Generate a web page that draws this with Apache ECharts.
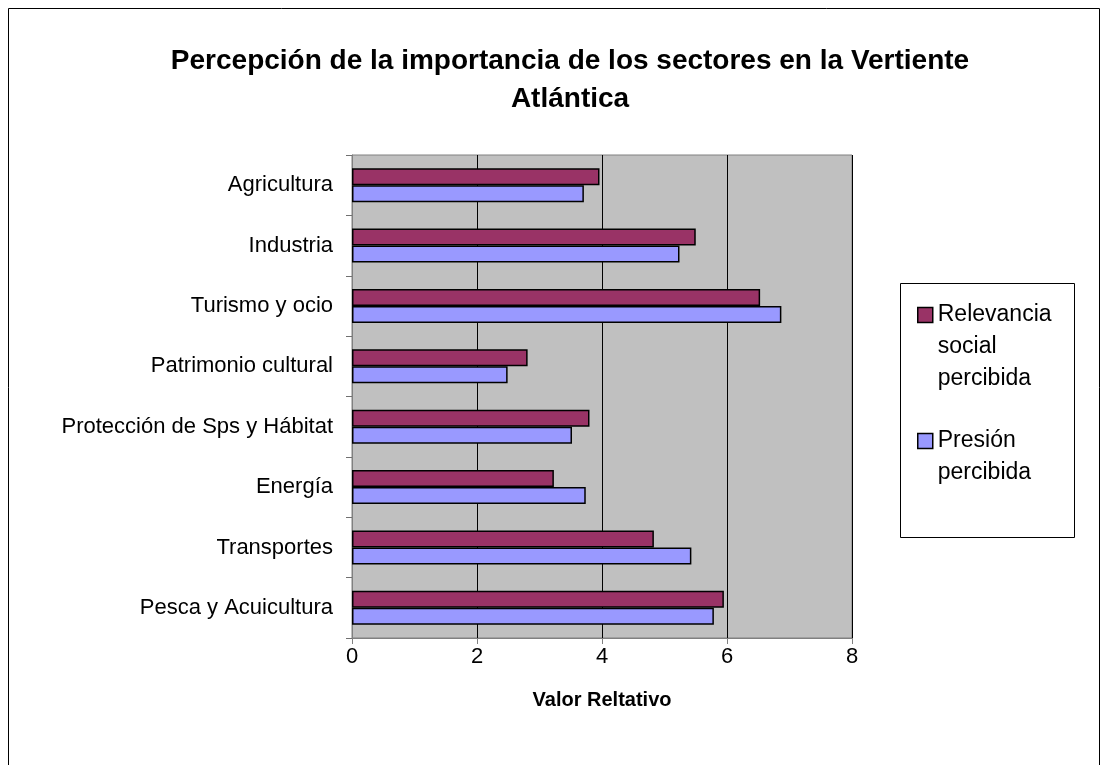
<!DOCTYPE html>
<html>
<head>
<meta charset="utf-8">
<script src="https://cdn.jsdelivr.net/npm/echarts@6/dist/echarts.min.js"></script>
<style>
  html, body { margin: 0; padding: 0; background: #fff; }
  #chart { width: 1109px; height: 765px; }
</style>
</head>
<body>
<div id="chart"></div>
<script>
// categories top to bottom, as in the picture
const sectores = ['Agricultura', 'Industria', 'Turismo y ocio', 'Patrimonio cultural',
  'Protección de Sps y Hábitat', 'Energía', 'Transportes', 'Pesca y Acuicultura']
const relevanciaSocial = [3.96, 5.50, 6.53, 2.81, 3.80, 3.23, 4.83, 5.95]
const presion = [3.71, 5.24, 6.87, 2.49, 3.52, 3.74, 5.43, 5.79]
const xTicks = [0, 2, 4, 6, 8]

const font = 'Arial, "Liberation Sans", sans-serif'

const chart = echarts.init(document.getElementById('chart'))

// legend text: blank lines first so the icon sits beside the first line
const legendText = {
  fontFamily: font, fontSize: 23, color: '#000', lineHeight: 32
}

const option = {
  backgroundColor: '#fff',
  animation: false,
  textStyle: { fontFamily: font, color: '#000' },
  title: {
    text: 'Percepción de la importancia de los sectores en la Vertiente\nAtlántica',
    left: 565,
    textAlign: 'center',
    top: 37,
    textStyle: { fontFamily: font, fontSize: 28, fontWeight: 'bold', color: '#000', lineHeight: 38 }
  },
  graphic: [{
    type: 'rect',
    shape: { x: 8.5, y: 8.5, width: 1091, height: 800 },
    style: { fill: 'none', stroke: '#000', lineWidth: 1 },
    silent: true
  }, {
    type: 'rect',
    shape: { x: 900.5, y: 283.5, width: 174, height: 254 },
    style: { fill: '#fff', stroke: '#000', lineWidth: 1 },
    silent: true,
    z: -1
  }],
  legend: [{
    data: ['Relevancia social percibida'],
    left: 912,
    top: 230,
    icon: 'rect',
    itemWidth: 15,
    itemHeight: 15,
    itemStyle: { borderColor: '#000', borderWidth: 1.5 },
    formatter: () => '\n\nRelevancia\nsocial\npercibida',
    textStyle: legendText
  }, {
    data: ['Presión percibida'],
    left: 912,
    top: 388,
    icon: 'rect',
    itemWidth: 15,
    itemHeight: 15,
    itemStyle: { borderColor: '#000', borderWidth: 1.5 },
    formatter: () => '\nPresión\npercibida',
    textStyle: legendText
  }],
  grid: {
    left: 352,
    right: 257,
    top: 155,
    bottom: 127,
    show: true,
    backgroundColor: '#C0C0C0',
    borderColor: '#808080',
    borderWidth: 1
  },
  xAxis: {
    type: 'value',
    min: xTicks[0],
    max: xTicks[xTicks.length - 1],
    interval: 2,
    name: 'Valor Reltativo',
    nameLocation: 'middle',
    nameGap: 52,
    nameTextStyle: { fontFamily: font, fontSize: 20, fontWeight: 'bold', color: '#000' },
    axisLine: { show: true, lineStyle: { color: '#808080', width: 1 } },
    axisTick: { show: true, length: 6, lineStyle: { color: '#808080' } },
    axisLabel: { fontFamily: font, fontSize: 22, color: '#000', margin: 8 },
    splitLine: { show: true, lineStyle: { color: '#000', width: 1 } }
  },
  yAxis: {
    type: 'category',
    data: sectores,
    inverse: true,
    axisLine: { show: true, lineStyle: { color: '#808080', width: 1 } },
    axisTick: { show: true, length: 6, lineStyle: { color: '#707070' } },
    axisLabel: { fontFamily: font, fontSize: 22, color: '#000', margin: 19 },
    splitLine: { show: false }
  },
  series: [{
    name: 'Relevancia social percibida',
    type: 'bar',
    data: relevanciaSocial,
    barWidth: 17,
    barGap: '0%',
    itemStyle: { color: '#993366', borderColor: '#000', borderWidth: 1.5 }
  }, {
    name: 'Presión percibida',
    type: 'bar',
    data: presion,
    barWidth: 17,
    barGap: '0%',
    itemStyle: { color: '#9999FF', borderColor: '#000', borderWidth: 1.5 }
  }]
}

chart.setOption(option)
</script>
</body>
</html>
